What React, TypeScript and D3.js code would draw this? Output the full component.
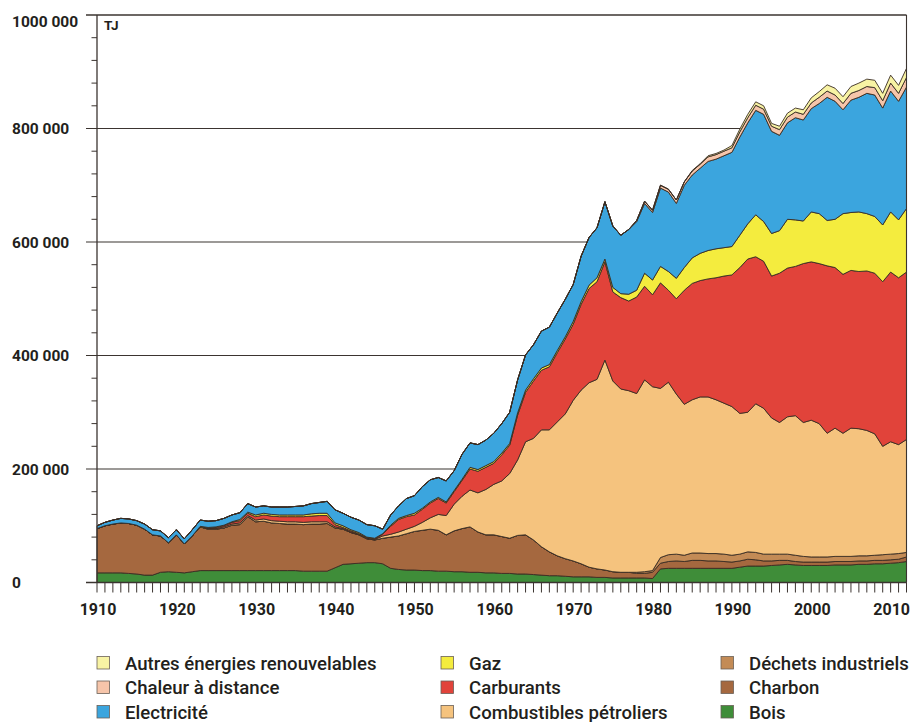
import React from 'react'
import * as d3 from 'd3'

// Final energy consumption by source, in thousand TJ, 1910–2012
const YEARS = d3.range(1910, 2013)

const bois = [
  17, 17, 17, 17, 16, 15, 13, 13, 18, 19,
  18, 17, 19, 21, 21, 21, 21, 21, 21, 21,
  21, 21, 21, 21, 21, 21, 20, 20, 20, 20,
  26, 32, 33, 34, 35, 35, 33, 25, 23, 22,
  22, 21, 21, 20, 20, 19, 19, 18, 18, 17,
  17, 16, 16, 15, 15, 14, 13, 12, 12, 11,
  10, 10, 10, 9, 9, 8, 8, 8, 8, 8,
  7, 24, 25, 25, 25, 25, 25, 25, 25, 25,
  25, 27, 29, 29, 29, 30, 31, 32, 31, 30,
  30, 30, 30, 31, 31, 31, 32, 32, 33, 33,
  34, 35, 37,
]
const charbon = [
  78, 83, 86, 88, 88, 86, 81, 71, 64, 51,
  66, 51, 63, 77, 73, 73, 75, 80, 81, 95,
  86, 87, 84, 83, 82, 82, 82, 83, 83, 84,
  70, 62, 55, 50, 42, 40, 45, 55, 59, 64,
  68, 71, 73, 72, 64, 72, 76, 80, 71, 67,
  67, 65, 62, 68, 69, 61, 50, 42, 35, 31,
  28, 23, 17, 15, 13, 11, 10, 10, 8, 8,
  11, 10, 12, 13, 12, 14, 14, 13, 13, 12,
  11, 11, 12, 11, 9, 8, 8, 7, 6, 6,
  6, 6, 6, 6, 6, 6, 6, 6, 6, 6,
  6, 6, 8,
]
const dechets = [
  0, 0, 0, 0, 0, 0, 0, 0, 0, 0,
  0, 0, 0, 0, 0, 0, 0, 0, 0, 0,
  0, 0, 0, 0, 0, 0, 0, 0, 0, 0,
  0, 0, 0, 0, 0, 0, 0, 0, 0, 0,
  0, 0, 0, 0, 0, 0, 0, 0, 0, 0,
  0, 0, 0, 0, 0, 0, 0, 0, 0, 0,
  0, 0, 0, 0, 0, 0, 0, 0, 2, 3,
  3, 10, 12, 12, 11, 13, 13, 13, 13, 13,
  12, 12, 13, 13, 12, 12, 11, 11, 11, 10,
  9, 9, 9, 9, 9, 9, 9, 9, 9, 10,
  10, 10, 8,
]
const combustibles = [
  0, 0, 0, 0, 0, 0, 0, 0, 0, 0,
  0, 0, 0, 0, 1, 1, 2, 2, 3, 2,
  3, 4, 4, 4, 4, 4, 4, 4, 4, 3,
  2, 1, 1, 1, 1, 1, 4, 5, 7, 8,
  9, 14, 20, 28, 34, 47, 57, 65, 69, 80,
  89, 98, 114, 133, 164, 179, 206, 215, 236, 255,
  283, 306, 325, 334, 370, 336, 323, 320, 315, 338,
  324, 298, 304, 282, 266, 270, 275, 276, 271, 266,
  262, 248, 246, 262, 257, 240, 232, 242, 246, 236,
  241, 235, 218, 226, 217, 226, 224, 221, 214, 191,
  198, 192, 199,
]
const carburants = [
  0, 0, 0, 0, 0, 0, 0, 0, 0, 0,
  0, 0, 0, 0, 1, 2, 2, 3, 4, 4,
  6, 7, 8, 8, 9, 9, 10, 10, 11, 11,
  4, 2, 2, 1, 1, 1, 3, 14, 22, 22,
  20, 23, 26, 28, 22, 22, 28, 37, 38, 39,
  37, 46, 50, 79, 87, 101, 105, 111, 122, 132,
  134, 151, 166, 172, 173, 157, 161, 158, 170, 165,
  162, 186, 162, 168, 201, 205, 205, 208, 215, 224,
  232, 257, 270, 259, 259, 250, 263, 262, 263, 280,
  279, 282, 295, 283, 280, 278, 277, 281, 283, 290,
  299, 294, 295,
]
const gaz = [
  0, 0, 0, 0, 0, 0, 0, 0, 0, 0,
  0, 0, 0, 1, 1, 1, 1, 1, 2, 2,
  3, 3, 3, 3, 3, 3, 3, 4, 4, 4,
  3, 3, 2, 2, 1, 1, 1, 2, 2, 2,
  3, 2, 2, 2, 2, 2, 2, 3, 3, 3,
  3, 3, 3, 4, 4, 4, 4, 4, 4, 4,
  5, 5, 6, 7, 5, 8, 7, 12, 12, 23,
  26, 29, 33, 36, 40, 45, 48, 50, 51, 50,
  50, 57, 62, 74, 70, 75, 75, 86, 82, 75,
  88, 88, 80, 85, 107, 102, 105, 101, 100, 100,
  106, 102, 112,
]
const electricite = [
  5, 6, 7, 8, 8, 8, 9, 9, 9, 9,
  9, 9, 11, 11, 11, 11, 12, 12, 12, 15,
  14, 13, 13, 14, 14, 15, 16, 18, 19, 21,
  23, 22, 22, 22, 22, 22, 8, 18, 22, 30,
  31, 38, 39, 35, 37, 35, 44, 43, 44, 45,
  50, 52, 55, 58, 62, 60, 65, 66, 66, 66,
  65, 80, 84, 88, 101, 108, 103, 114, 121, 123,
  119, 138, 140, 132, 145, 146, 150, 157, 158, 162,
  166, 173, 178, 184, 189, 180, 168, 170, 180, 178,
  182, 194, 217, 208, 183, 198, 202, 212, 214, 206,
  213, 209, 214,
]
const chaleur = [
  0, 0, 0, 0, 0, 0, 0, 0, 0, 0,
  0, 0, 0, 0, 0, 0, 0, 0, 0, 0,
  0, 0, 0, 0, 0, 0, 0, 0, 0, 0,
  0, 0, 0, 0, 0, 0, 0, 0, 0, 0,
  0, 0, 0, 0, 0, 0, 0, 0, 0, 0,
  0, 0, 0, 0, 0, 0, 0, 0, 0, 0,
  0, 0, 0, 0, 0, 0, 0, 0, 2, 4,
  4, 5, 5, 6, 6, 7, 7, 8, 8, 8,
  8, 9, 9, 9, 9, 9, 10, 10, 10, 10,
  10, 11, 11, 11, 11, 12, 12, 12, 13, 13,
  14, 14, 17,
]
const autres = [
  0, 0, 0, 0, 0, 0, 0, 0, 0, 0,
  0, 0, 0, 0, 0, 0, 0, 0, 0, 0,
  0, 0, 0, 0, 0, 0, 0, 0, 0, 0,
  0, 0, 0, 0, 0, 0, 0, 0, 0, 0,
  0, 0, 0, 0, 0, 0, 0, 0, 0, 0,
  0, 0, 0, 0, 0, 0, 0, 0, 0, 0,
  0, 0, 0, 0, 0, 0, 0, 0, 0, 0,
  0, 0, 0, 0, 0, 1, 1, 2, 2, 2,
  4, 5, 6, 6, 6, 5, 6, 7, 7, 8,
  9, 10, 11, 12, 12, 12, 13, 13, 13, 13,
  14, 14, 16,
]

// stacking order, bottom to top
const SERIES = [
  { key: 'bois', label: 'Bois', color: '#3f8d39', values: bois },
  { key: 'charbon', label: 'Charbon', color: '#a5683f', values: charbon },
  { key: 'dechets', label: 'Déchets industriels', color: '#c38b56', values: dechets },
  { key: 'combustibles', label: 'Combustibles pétroliers', color: '#f5c37e', values: combustibles },
  { key: 'carburants', label: 'Carburants', color: '#e1433a', values: carburants },
  { key: 'gaz', label: 'Gaz', color: '#f4ec3e', values: gaz },
  { key: 'electricite', label: 'Electricité', color: '#3ba5de', values: electricite },
  { key: 'chaleur', label: 'Chaleur à distance', color: '#f6c5aa', values: chaleur },
  { key: 'autres', label: 'Autres énergies renouvelables', color: '#f8f3a4', values: autres },
]

// legend columns, top to bottom
const LEGEND_COLS = [
  ['autres', 'chaleur', 'electricite'],
  ['gaz', 'carburants', 'combustibles'],
  ['dechets', 'charbon', 'bois'],
]

const Y_TICKS = [0, 200, 400, 600, 800, 1000]
const Y_TICK_LABELS = ['0', '200 000', '400 000', '600 000', '800 000', '1000 000']
const X_LABEL_YEARS = [1910, 1920, 1930, 1940, 1950, 1960, 1970, 1980, 1990, 2000, 2010]

const W = 911
const H = 722
const LEFT = 97
const RIGHT = 906.5
const TOP = 15
const BOTTOM = 582.5
const LINE = '#3b3430'
const LABEL_FONT = 'Roboto, "DejaVu Sans", sans-serif'

export default function App() {
  const x = d3.scaleLinear().domain([1910, 2012]).range([LEFT, RIGHT])
  const y = d3.scaleLinear().domain([0, 1000]).range([BOTTOM, TOP])

  const rows = YEARS.map((yr, i) => {
    const r: any = { year: yr }
    SERIES.forEach(s => { r[s.key] = s.values[i] })
    return r
  })
  const stacked = d3.stack<any>().keys(SERIES.map(s => s.key))(rows)
  const area = d3.area<any>()
    .x(d => x(d.data.year))
    .y0(d => y(d[0]))
    .y1(d => y(d[1]))

  const minorTicks = d3.range(40, 1000, 40).filter(v => v % 200 !== 0)
  const byKey = Object.fromEntries(SERIES.map(s => [s.key, s]))

  return (
    <svg width={W} height={H} style={{ position: 'absolute', left: 0, top: 0, background: '#fff' }}>
      {/* gridlines behind areas */}
      {Y_TICKS.filter(v => v > 0 && v < 1000).map(v => (
        <line key={v} x1={86} x2={RIGHT} y1={y(v)} y2={y(v)} stroke={LINE} strokeWidth={1.1} />
      ))}

      {stacked.map((layer, i) => (
        <path key={layer.key} d={area(layer) || ''} fill={SERIES[i].color}
          stroke="#3a2c22" strokeWidth={0.9} strokeLinejoin="round" />
      ))}

      {/* frame */}
      <line x1={86} x2={RIGHT} y1={TOP} y2={TOP} stroke={LINE} strokeWidth={1.3} />
      <line x1={86} x2={RIGHT} y1={BOTTOM} y2={BOTTOM} stroke={LINE} strokeWidth={1.3} />
      <line x1={LEFT} x2={LEFT} y1={TOP} y2={BOTTOM} stroke={LINE} strokeWidth={1.3} />
      <line x1={RIGHT} x2={RIGHT} y1={TOP} y2={BOTTOM} stroke={LINE} strokeWidth={1.1} />

      {minorTicks.map(v => (
        <line key={v} x1={91.5} x2={LEFT} y1={y(v)} y2={y(v)} stroke={LINE} strokeWidth={1} />
      ))}

      {YEARS.map(yr => (
        <line key={yr} x1={x(yr)} x2={x(yr)} y1={BOTTOM} y2={592.5} stroke={LINE} strokeWidth={1} />
      ))}

      {X_LABEL_YEARS.map(yr => (
        <text key={yr} x={x(yr) + 1} y={615} textAnchor="middle" fontFamily={LABEL_FONT}
          fontWeight={700} fontSize={16} fill="#231f1c">{yr}</text>
      ))}

      {Y_TICKS.map((v, i) => (
        <text key={v} x={12} y={y(v) + (v === 1000 ? 11.5 : 5.8)} fontFamily={LABEL_FONT}
          fontWeight={700} fontSize={15.5} fill="#231f1c">{Y_TICK_LABELS[i]}</text>
      ))}

      <text x={104} y={30} fontFamily={LABEL_FONT} fontWeight={700} fontSize={13.5} fill="#231f1c">TJ</text>

      {/* legend */}
      {LEGEND_COLS.map((col, ci) => (
        <g key={ci} transform={`translate(${[97, 441, 721][ci]},0)`}>
          {col.map((k, ri) => {
            const cy = 663 + ri * 24.5
            return (
              <g key={k}>
                <rect x={0} y={cy - 6.5} width={12.5} height={12.5} fill={byKey[k].color}
                  stroke="#6a6058" strokeWidth={0.8} />
                <text x={28} y={cy + 6.5} fontFamily={LABEL_FONT} fontWeight={500} fontSize={18.6}
                  fill="#231f1c">{byKey[k].label}</text>
              </g>
            )
          })}
        </g>
      ))}
    </svg>
  )
}
